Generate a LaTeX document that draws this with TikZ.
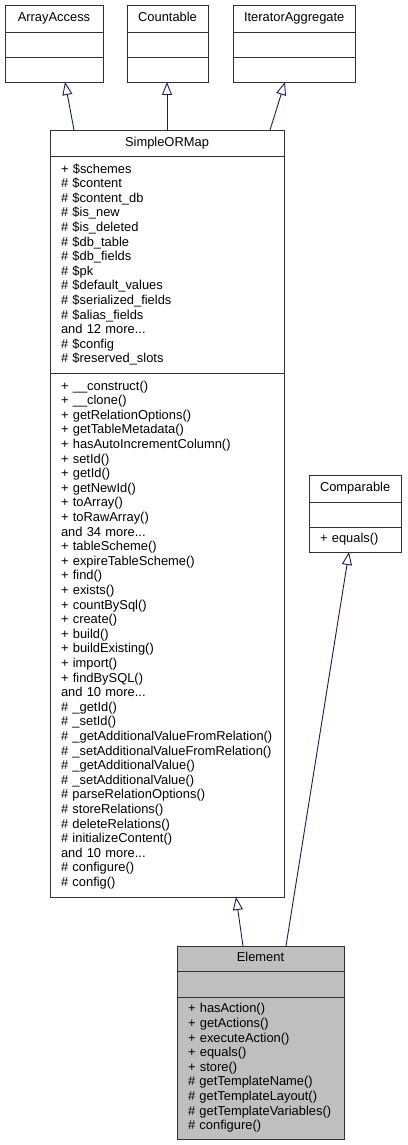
\documentclass[tikz,border=0pt]{standalone}
\usepackage{fontspec}
\setmainfont{Liberation Sans}
\usetikzlibrary{arrows.meta}
\definecolor{edgeblue}{HTML}{191970}
\definecolor{hlgray}{HTML}{BFBFBF}

\begin{document}
\begin{tikzpicture}[x=1pt,y=-1pt,font=\fontsize{12.9}{14.6}\selectfont,
    box/.style={draw=black!80,line width=0.9pt,inner xsep=11pt,inner ysep=0pt,outer sep=0pt,text width=#1,align=left},
    head/.style={box=#1,align=center,anchor=north west,text height=9pt,text depth=2.5pt},
    inherit/.style={draw=edgeblue,line width=0.9pt,-{Triangle[open,length=13pt,width=10pt]}}]
  \useasboundingbox (0,0) rectangle (407,1145);
  % interfaces on top
  \foreach \name/\lx/\tw in {ArrayAccess/5/76,Countable/127/59,IteratorAggregate/233/100} {
    \node[head=\tw pt,minimum height=27pt] (\name) at (\lx,5) {\name};
    \node[box=\tw pt,anchor=north,minimum height=25pt] (\name-attr) at (\name.south) {};
    \node[box=\tw pt,anchor=north,minimum height=25pt] (\name-ops) at (\name-attr.south) {};
  }
  % base class
  \node[head=212pt,minimum height=26pt] (SimpleORMap) at (50,130) {SimpleORMap};
  \node[box=212pt,anchor=north,minimum height=217pt] (SimpleORMap-attr) at (SimpleORMap.south) {%
    + \$schemes\\
    \# \$content\\
    \# \$content\_db\\
    \# \$is\_new\\
    \# \$is\_deleted\\
    \# \$db\_table\\
    \# \$db\_fields\\
    \# \$pk\\
    \# \$default\_values\\
    \# \$serialized\_fields\\
    \# \$alias\_fields\\
    and 12 more...\\
    \# \$config\\
    \# \$reserved\_slots};
  \node[box=212pt,anchor=north,minimum height=524pt] (SimpleORMap-ops) at (SimpleORMap-attr.south) {%
    + \_\_construct()\\
    + \_\_clone()\\
    + getRelationOptions()\\
    + getTableMetadata()\\
    + hasAutoIncrementColumn()\\
    + setId()\\
    + getId()\\
    + getNewId()\\
    + toArray()\\
    + toRawArray()\\
    and 34 more...\\
    + tableScheme()\\
    + expireTableScheme()\\
    + find()\\
    + exists()\\
    + countBySql()\\
    + create()\\
    + build()\\
    + buildExisting()\\
    + import()\\
    + findBySQL()\\
    and 10 more...\\
    \# \_getId()\\
    \# \_setId()\\
    \# \_getAdditionalValueFromRelation()\\
    \# \_setAdditionalValueFromRelation()\\
    \# \_getAdditionalValue()\\
    \# \_setAdditionalValue()\\
    \# parseRelationOptions()\\
    \# storeRelations()\\
    \# deleteRelations()\\
    \# initializeContent()\\
    and 10 more...\\
    \# configure()\\
    \# config()};
  % second interface
  \node[head=70pt,minimum height=27pt] (Comparable) at (309,475) {Comparable};
  \node[box=70pt,anchor=north,minimum height=25pt] (Comparable-attr) at (Comparable.south) {};
  \node[box=70pt,anchor=north,minimum height=25pt] (Comparable-ops) at (Comparable-attr.south) {+ equals()};
  % the documented class
  \node[head=145pt,fill=hlgray,minimum height=25pt] (Element) at (177,946) {Element};
  \node[box=145pt,fill=hlgray,anchor=north,minimum height=26pt] (Element-attr) at (Element.south) {};
  \node[box=145pt,fill=hlgray,anchor=north,minimum height=142pt] (Element-ops) at (Element-attr.south) {%
    + hasAction()\\
    + getActions()\\
    + executeAction()\\
    + equals()\\
    + store()\\
    \# getTemplateName()\\
    \# getTemplateLayout()\\
    \# getTemplateVariables()\\
    \# configure()};
  % inheritance
  \draw[inherit] ([xshift=24pt]SimpleORMap.north west) -- ([xshift=60pt]ArrayAccess-ops.south west);
  \draw[inherit] ([xshift=117pt]SimpleORMap.north west) -- ([xshift=40pt]Countable-ops.south west);
  \draw[inherit] ([xshift=220pt]SimpleORMap.north west) -- ([xshift=52pt]IteratorAggregate-ops.south west);
  \draw[inherit] ([xshift=66pt]Element.north west) -- ([xshift=186pt]SimpleORMap-ops.south west);
  \draw[inherit] ([xshift=109pt]Element.north west) -- ([xshift=40pt]Comparable-ops.south west);
\end{tikzpicture}
\end{document}
